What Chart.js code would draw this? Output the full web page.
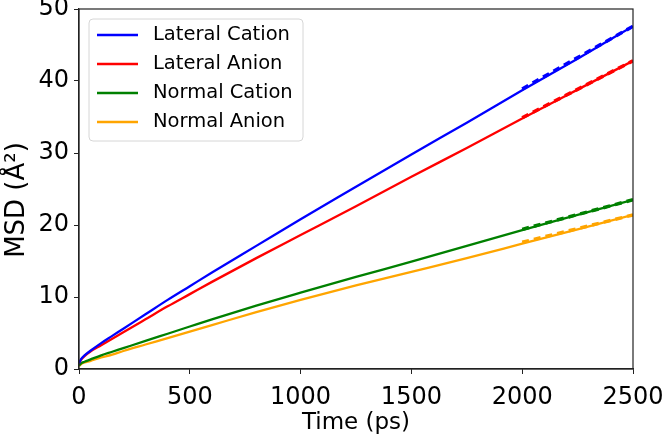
<!DOCTYPE html>
<html>
<head>
<meta charset="utf-8">
<script src="https://cdn.jsdelivr.net/npm/chart.js@4"></script>
<style>
  html, body { margin: 0; padding: 0; background: #fff; }
  #wrap { width: 666px; height: 437px; }
</style>
</head>
<body>
<div id="wrap"><canvas id="myChart" width="666" height="437"></canvas></div>
<script>
// valores (MSD em Å^2, tempo em ps)
const times = [0, 10, 25, 50, 100, 150, 200, 300, 400, 500, 600, 800, 1000, 1250, 1500, 1750, 2000, 2250, 2500];
const lateralCation = [0.8, 1.4, 1.9, 2.5, 3.6, 4.6, 5.6, 7.6, 9.6, 11.5, 13.4, 17.1, 20.8, 25.3, 29.8, 34.2, 38.7, 43.1, 47.6];
const lateralAnion = [0.8, 1.3, 1.8, 2.4, 3.3, 4.2, 5.1, 6.9, 8.7, 10.4, 12.1, 15.4, 18.6, 22.6, 26.7, 30.7, 34.8, 38.8, 42.8];
const normalCation = [0.5, 0.8, 1.0, 1.3, 1.9, 2.4, 2.9, 3.9, 4.9, 5.9, 6.9, 8.8, 10.6, 12.8, 14.9, 17.1, 19.3, 21.4, 23.5];
const normalAnion = [0.4, 0.7, 0.9, 1.1, 1.6, 2.0, 2.5, 3.4, 4.3, 5.2, 6.1, 7.9, 9.6, 11.6, 13.5, 15.4, 17.4, 19.4, 21.4];

// ajuste linear (tracejado) entre 2000 e 2500 ps
const fitTimes = [2000, 2500];
const fitLateralCation = [38.9, 47.6];
const fitLateralAnion = [34.9, 42.8];
const fitNormalCation = [19.4, 23.5];
const fitNormalAnion = [17.6, 21.4];

const xTicks = [0, 500, 1000, 1500, 2000, 2500];
const yTicks = [0, 10, 20, 30, 40, 50];

const labels = ['Lateral Cation', 'Lateral Anion', 'Normal Cation', 'Normal Anion'];
const colors = ['#0000ff', '#ff0000', '#008000', '#ffa500'];
const series = [lateralCation, lateralAnion, normalCation, normalAnion];
const fits = [fitLateralCation, fitLateralAnion, fitNormalCation, fitNormalAnion];

function pts(xs, ys) {
    return xs.map(function (x, i) { return { x: x, y: ys[i] }; });
}

const datasets = [];
series.forEach(function (s, i) {
    datasets.push({
        label: labels[i],
        data: pts(times, s),
        borderColor: colors[i],
        backgroundColor: colors[i],
        borderWidth: 2.3,
        pointRadius: 0,
        cubicInterpolationMode: 'monotone',
        fill: false
    });
});
fits.forEach(function (s, i) {
    datasets.push({
        label: '',
        data: pts(fitTimes, s),
        borderColor: colors[i],
        borderWidth: 3.5,
        borderDash: [7, 5],
        pointRadius: 0,
        fill: false
    });
});

// moldura, título do eixo y e legenda dentro do gráfico
const framePlugin = {
    id: 'frame',
    afterDatasetsDraw(chart) {
        const ctx = chart.ctx;
        const a = chart.chartArea;
        ctx.save();
        ctx.strokeStyle = '#222';
        ctx.lineWidth = 1.2;
        ctx.strokeRect(a.left, a.top, a.right - a.left, a.bottom - a.top);

        // título y
        ctx.save();
        ctx.translate(17.5, 200);
        ctx.rotate(-Math.PI / 2);
        ctx.font = '26px "DejaVu Sans"';
        ctx.fillStyle = '#000';
        ctx.textAlign = 'center';
        ctx.textBaseline = 'middle';
        ctx.fillText('MSD (Å²)', 0, 0);
        ctx.restore();

        // legenda
        const bx = 89, by = 19, bw = 214, bh = 122, r = 4;
        ctx.beginPath();
        ctx.moveTo(bx + r, by);
        ctx.arcTo(bx + bw, by, bx + bw, by + bh, r);
        ctx.arcTo(bx + bw, by + bh, bx, by + bh, r);
        ctx.arcTo(bx, by + bh, bx, by, r);
        ctx.arcTo(bx, by, bx + bw, by, r);
        ctx.closePath();
        ctx.fillStyle = 'rgba(255,255,255,0.85)';
        ctx.fill();
        ctx.strokeStyle = '#d6d6d6';
        ctx.lineWidth = 1;
        ctx.stroke();

        ctx.font = '19.5px "DejaVu Sans"';
        ctx.textBaseline = 'middle';
        ctx.textAlign = 'left';
        labels.forEach(function (lab, i) {
            const y = 35 + i * 29;
            ctx.strokeStyle = colors[i];
            ctx.lineWidth = 2.3;
            ctx.beginPath();
            ctx.moveTo(97, y);
            ctx.lineTo(138, y);
            ctx.stroke();
            ctx.fillStyle = '#000';
            ctx.fillText(lab, 153, y);
        });
        ctx.restore();
    }
};

const ctx = document.getElementById('myChart').getContext('2d');
const chart = new Chart(ctx, {
    type: 'line',
    data: { datasets: datasets },
    options: {
        responsive: false,
        animation: false,
        layout: { padding: { left: 0, right: 33, top: 9, bottom: 0 } },
        plugins: {
            legend: { display: false },
            tooltip: { enabled: false }
        },
        scales: {
            x: {
                type: 'linear',
                min: 0,
                max: 2500,
                afterFit(scale) {
                    scale.height = 68;
                    scale.paddingLeft = 0;
                    scale.paddingRight = 0;
                },
                afterBuildTicks(scale) { scale.ticks = xTicks.map(function (v) { return { value: v }; }); },
                grid: { display: true, drawOnChartArea: false, drawTicks: true, tickLength: 5, color: '#222', lineWidth: 1 },
                border: { display: true, color: '#222', width: 1.2 },
                ticks: {
                    color: '#000', padding: 9, maxRotation: 0,
                    font: { family: 'DejaVu Sans', size: 24 },
                    callback: function (v) { return String(v); }
                },
                title: { display: true, text: 'Time (ps)', color: '#000', padding: { top: 0, bottom: 0 }, font: { family: 'DejaVu Sans', size: 23 } }
            },
            y: {
                min: 0,
                max: 50,
                afterFit(scale) {
                    scale.width = 79;
                    scale.paddingTop = 0;
                    scale.paddingBottom = 0;
                },
                afterBuildTicks(scale) { scale.ticks = yTicks.map(function (v) { return { value: v }; }); },
                grid: { display: true, drawOnChartArea: false, drawTicks: true, tickLength: 5, color: '#222', lineWidth: 1 },
                border: { display: true, color: '#222', width: 1.2 },
                ticks: {
                    color: '#000', padding: 5,
                    font: { family: 'DejaVu Sans', size: 24 },
                    callback: function (v) { return String(v); }
                },
                title: { display: false }
            }
        }
    },
    plugins: [framePlugin]
});
</script>
</body>
</html>
